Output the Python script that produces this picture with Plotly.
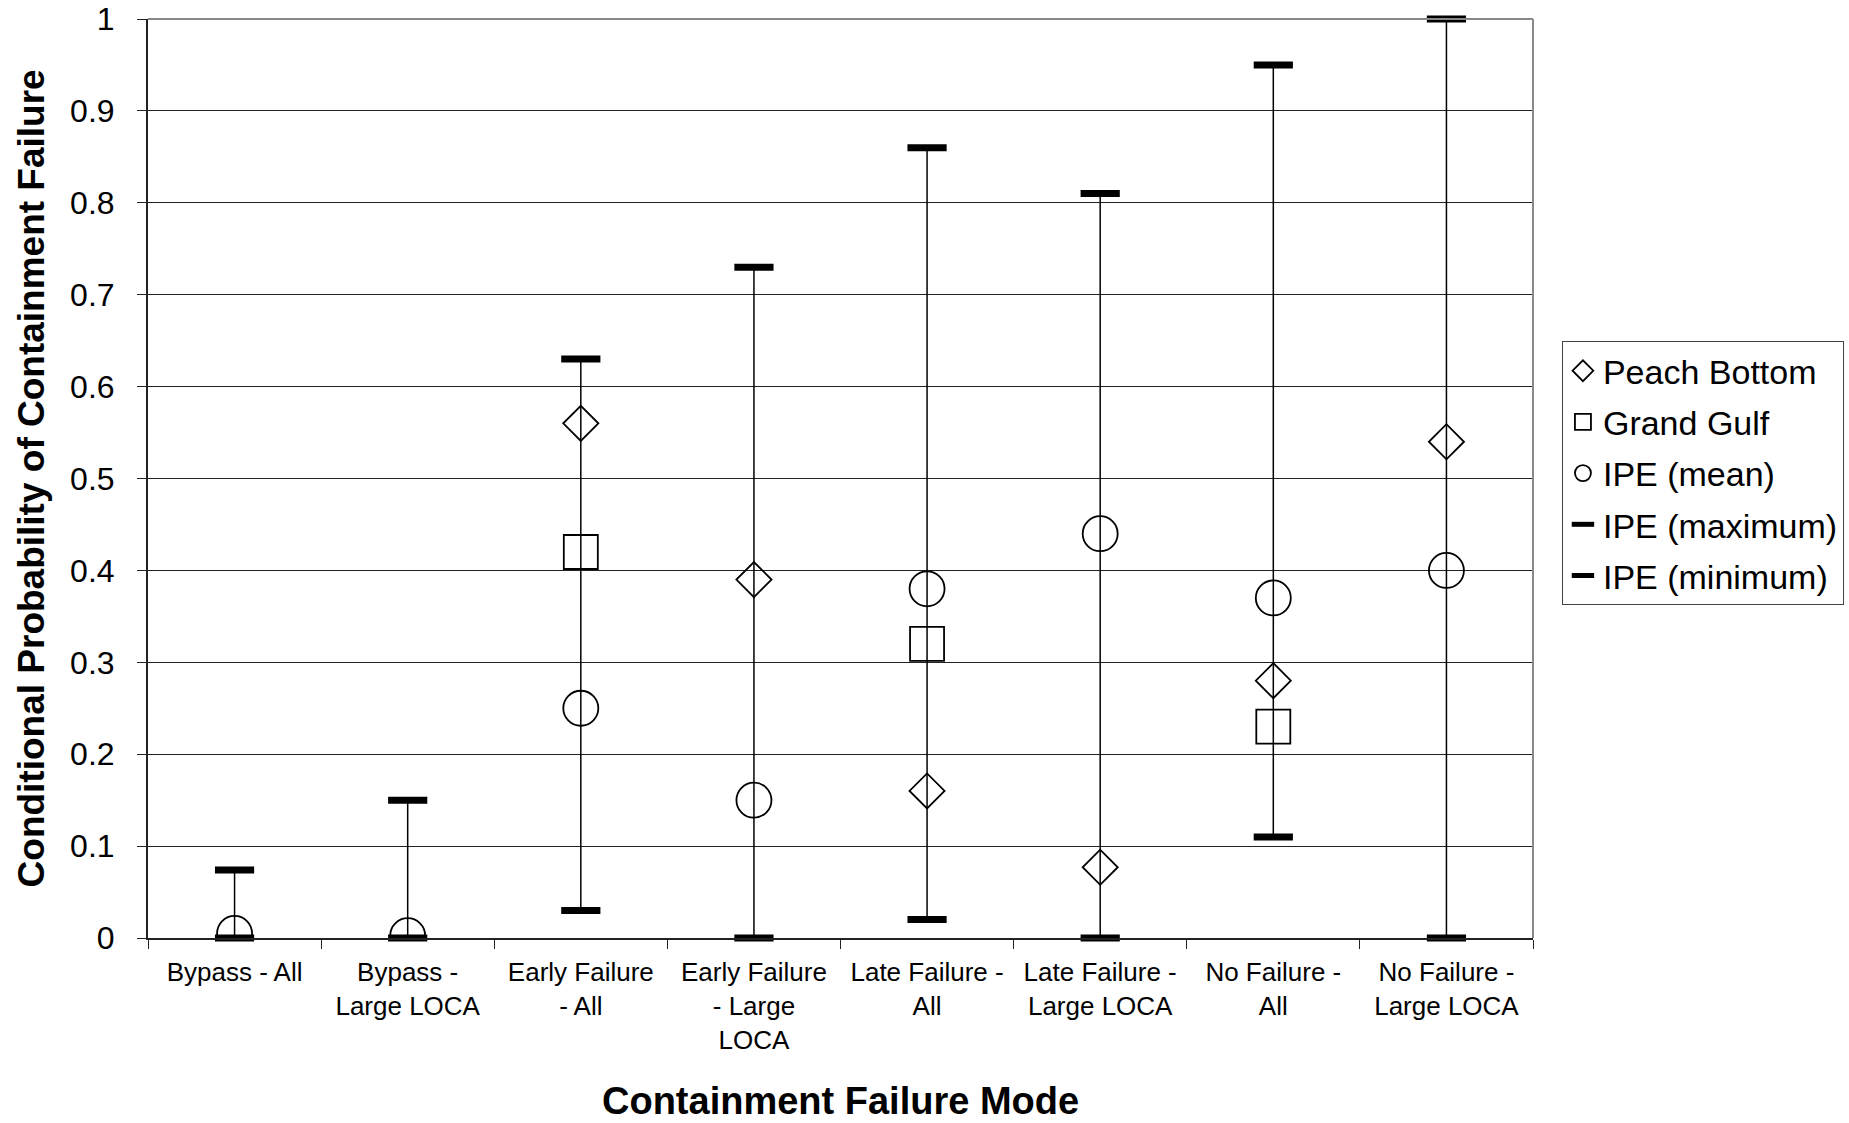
import plotly.graph_objects as go

# ---- data ----
tick_labels = [
    "Bypass - All",
    "Bypass -<br>Large LOCA",
    "Early Failure<br>- All",
    "Early Failure<br>- Large<br>LOCA",
    "Late Failure -<br>All",
    "Late Failure -<br>Large LOCA",
    "No Failure -<br>All",
    "No Failure -<br>Large LOCA",
]
peach_bottom = [None, None, 0.56, 0.39, 0.16, 0.077, 0.28, 0.54]
grand_gulf = [None, None, 0.42, None, 0.32, None, 0.23, None]
ipe_mean = [0.005, 0.0025, 0.25, 0.15, 0.38, 0.44, 0.37, 0.40]
ipe_max = [0.074, 0.15, 0.63, 0.73, 0.86, 0.81, 0.95, 1.0]
ipe_min = [0.0, 0.0, 0.03, 0.0, 0.02, 0.0, 0.11, 0.0]

FONT = "Liberation Sans, Arial, sans-serif"

fig = go.Figure()

# vertical range lines (min to max) as error bars without caps
fig.add_trace(go.Scatter(
    x=tick_labels, y=ipe_max, mode="markers",
    marker=dict(size=1, color="rgba(0,0,0,0)"),
    error_y=dict(type="data", symmetric=False,
                 array=[0] * len(ipe_max),
                 arrayminus=[mx - mn for mx, mn in zip(ipe_max, ipe_min)],
                 color="black", thickness=1.5, width=0),
    showlegend=False, hoverinfo="skip"))

fig.add_trace(go.Scatter(
    x=tick_labels, y=peach_bottom, mode="markers", name="Peach Bottom",
    legendgroup="pb",
    marker=dict(symbol="diamond-open", size=27, color="black",
                line=dict(width=1.8, color="black"))))
fig.add_trace(go.Scatter(
    x=tick_labels, y=grand_gulf, mode="markers", name="Grand Gulf",
    legendgroup="gg",
    marker=dict(symbol="square-open", size=34, color="black",
                line=dict(width=1.8, color="black"))))
fig.add_trace(go.Scatter(
    x=tick_labels, y=ipe_mean, mode="markers", name="IPE (mean)",
    legendgroup="mean",
    marker=dict(symbol="circle-open", size=35, color="black",
                line=dict(width=1.8, color="black"))))
fig.add_trace(go.Scatter(
    x=tick_labels, y=ipe_max, mode="markers", name="IPE (maximum)",
    legendgroup="max",
    marker=dict(symbol="line-ew", size=28, color="black",
                line=dict(width=7, color="black")),
    cliponaxis=False))
fig.add_trace(go.Scatter(
    x=tick_labels, y=ipe_min, mode="markers", name="IPE (minimum)",
    legendgroup="min",
    marker=dict(symbol="line-ew", size=28, color="black",
                line=dict(width=7, color="black")),
    cliponaxis=False))

fig.update_layout(
    width=1849, height=1123,
    margin=dict(l=148, r=316, t=19, b=185, autoexpand=False),
    paper_bgcolor="white", plot_bgcolor="white",
    font=dict(family=FONT, color="black"),
    showlegend=True,
    legend=dict(x=1.0209, y=0.6495, xanchor="left", yanchor="top",
                bordercolor="#444", borderwidth=1,
                font=dict(size=34, family=FONT, color="black"),
                itemsizing="trace", tracegroupgap=4),
    xaxis=dict(type="category", showgrid=False, showline=True,
               linecolor="#222", linewidth=2, automargin=False,
               ticks="outside", tickson="boundaries", ticklen=9,
               tickcolor="#222", tickwidth=1, ticklabelstandoff=10,
               tickfont=dict(size=26, family=FONT, color="black"),
               range=[-0.5, 7.5], zeroline=False),
    yaxis=dict(range=[0, 1], dtick=0.1, tick0=0, automargin=False,
               showgrid=True, gridcolor="#222", gridwidth=1,
               showline=True, linecolor="#222", linewidth=2,
               ticks="outside", ticklen=9, tickcolor="#222",
               ticklabelstandoff=16,
               tickfont=dict(size=32, family=FONT, color="black"),
               zeroline=False),
    shapes=[
        dict(type="line", xref="paper", yref="paper", x0=0, x1=1, y0=1, y1=1,
             line=dict(color="#888", width=2)),
        dict(type="line", xref="paper", yref="paper", x0=1, x1=1, y0=0, y1=1,
             line=dict(color="#888", width=2)),
    ],
    annotations=[
        dict(text="<b>Containment Failure Mode</b>", xref="paper", yref="paper",
             x=0.5, y=-0.1775, xanchor="center", yanchor="middle",
             showarrow=False, font=dict(size=38, family=FONT, color="black")),
        dict(text="<b>Conditional Probability of Containment Failure</b>",
             xref="paper", yref="paper", x=-0.0838, y=0.5, textangle=-90,
             xanchor="center", yanchor="middle", showarrow=False,
             font=dict(size=37, family=FONT, color="black")),
    ],
)

fig.write_html("out.html")
